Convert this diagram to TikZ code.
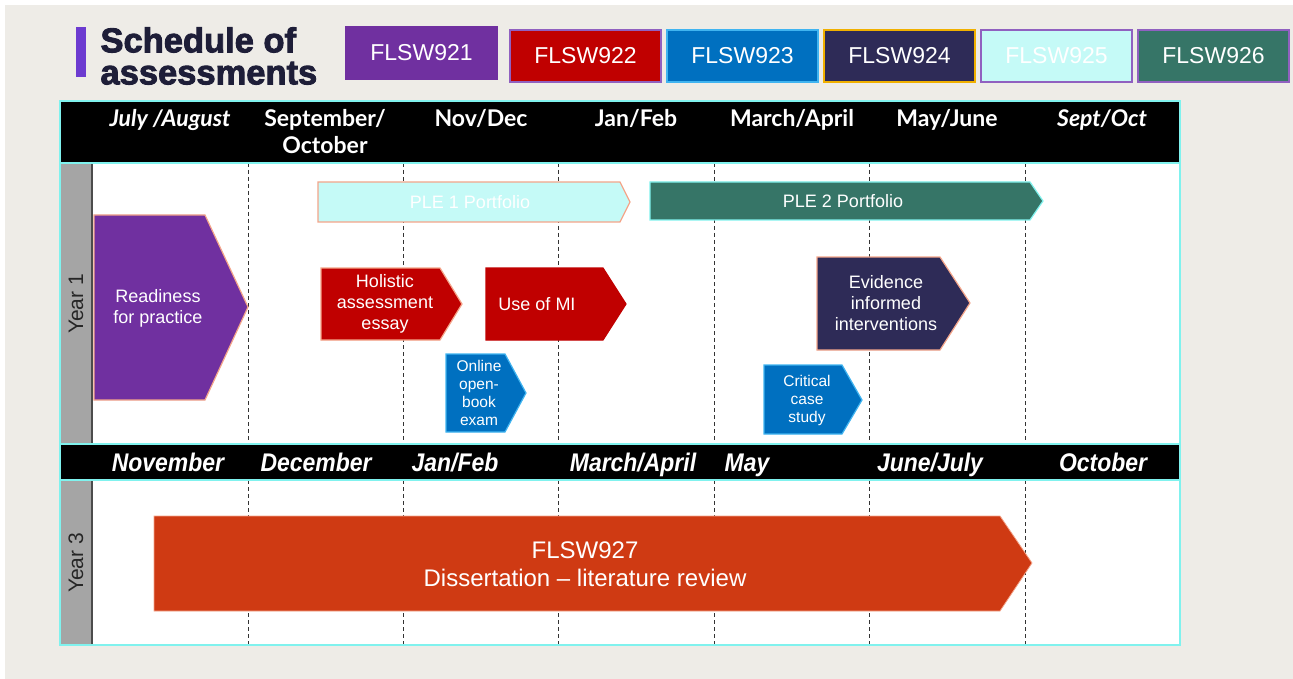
\documentclass[tikz,border=0pt]{standalone}
\usepackage{fontspec}
\setmainfont{Liberation Sans}
\newfontfamily\headfont{Lato}
\newfontfamily\narrowfont[FakeStretch=0.9]{Liberation Sans}
\newfontfamily\titlefont[BoldFeatures={FakeBold=2.6}]{Liberation Sans}
\usepackage{tikz}
\usetikzlibrary{positioning}
\usepackage{xcolor}

\definecolor{pagebg}{HTML}{EEECE7}
\definecolor{gridcyan}{HTML}{80F2EE}
\definecolor{stripgray}{HTML}{A5A5A5}
\definecolor{titlebar}{HTML}{6C3BD0}
\definecolor{titleink}{HTML}{1E1E38}
\definecolor{c921}{HTML}{7030A0}
\definecolor{c922}{HTML}{C00000}
\definecolor{c923}{HTML}{0070C0}
\definecolor{c924}{HTML}{2E2B57}
\definecolor{c925}{HTML}{C5FAF7}
\definecolor{c926}{HTML}{367567}
\definecolor{c927}{HTML}{CF3A13}
\definecolor{salmon}{HTML}{F4A58A}
\definecolor{skyedge}{HTML}{40B4F0}
\definecolor{goldedge}{HTML}{F0B000}
\definecolor{lilacedge}{HTML}{9060C0}

\tikzset{
	legendbox/.style={draw, line width=1.5pt, minimum width=151pt, minimum height=52pt,
		inner sep=0pt, text=white, font=\fontsize{23}{23}\selectfont},
	chevron/.style={draw=salmon, line width=1.2pt},
	boxtext/.style={text=white, align=center, font=\fontsize{18}{21}\selectfont},
	smalltext/.style={text=white, align=center, font=\fontsize{15.5}{18}\selectfont},
	monthtop/.style={anchor=base, inner sep=0pt, text=white, align=center, font=\headfont\bfseries\fontsize{23}{27}\selectfont},
	monthlow/.style={anchor=base, inner sep=0pt, text=white, font=\narrowfont\bfseries\itshape\fontsize{25.5}{25}\selectfont},
	yearlabel/.style={rotate=90, text=black!85, font=\fontsize{21}{21}\selectfont},
	gridline/.style={dash pattern=on 4pt off 3pt, line width=1pt, black!80}
}

\begin{document}
\begin{tikzpicture}[x=1pt, y=-1pt]
	\useasboundingbox (0,0) rectangle (1293,679);
	\fill[white] (0,0) rectangle (1293,679);
	\fill[pagebg] (5,5) rectangle (1293,679);

	% title and legend
	\fill[titlebar] (76,27) rectangle (86,77);
	\node[anchor=west, align=left, text=titleink, font=\titlefont\bfseries\fontsize{34.5}{32}\selectfont] (title) at (97,56) {Schedule of\\assessments};

	\node[legendbox, fill=c921, draw=c921] (leg921) at (421.5,53) {FLSW921};
	\node[legendbox, fill=c922, draw=lilacedge] (leg922) at (585.5,56) {FLSW922};
	\node[legendbox, fill=c923, draw=skyedge, right=4.5pt of leg922] (leg923) {FLSW923};
	\node[legendbox, fill=c924, draw=goldedge, right=4.5pt of leg923] (leg924) {FLSW924};
	\node[legendbox, fill=c925, draw=lilacedge, right=4.5pt of leg924] (leg925) {FLSW925};
	\node[legendbox, fill=c926, draw=lilacedge, right=4.5pt of leg925] (leg926) {FLSW926};

	% table
	\fill[white] (60,101) rectangle (1180,645);
	\fill[black] (60,101) rectangle (1180,163);
	\fill[black] (60,444) rectangle (1180,480);
	\fill[stripgray] (60,163) rectangle (92,444);
	\fill[stripgray] (60,480) rectangle (92,645);
	\draw[black!70, line width=1.2pt] (92,163) -- (92,444);
	\draw[black!70, line width=1.2pt] (92,480) -- (92,645);
	\foreach \x in {248,403,558,714,869,1025} {
		\draw[gridline] (\x,163) -- (\x,444);
		\draw[gridline] (\x,480) -- (\x,645);
	}
	\draw[gridcyan, line width=1.5pt] (60,163) -- (1180,163);
	\draw[gridcyan, line width=1.5pt] (60,444) -- (1180,444);
	\draw[gridcyan, line width=1.5pt] (60,480) -- (1180,480);
	\draw[gridcyan, line width=1.5pt] (60,101) rectangle (1180,645);

	\node[monthtop] (julaug) at (170,127) {\itshape July /August};
	\node[monthtop] (sep) at (325,127) {September/};
	\node[monthtop] (oct) at (325,154) {October};
	\node[monthtop] (novdec) at (481,127) {Nov/Dec};
	\node[monthtop] (janfeb) at (636,127) {Jan/Feb};
	\node[monthtop] (marapr) at (792,127) {March/April};
	\node[monthtop] (mayjun) at (947,127) {May/June};
	\node[monthtop] (septoct) at (1102,127) {\itshape Sept/Oct};

	\node[monthlow] (nov) at (168,471) {November};
	\node[monthlow] (dec) at (316,471) {December};
	\node[monthlow] (janfeb3) at (455,471) {Jan/Feb};
	\node[monthlow] (marapr3) at (633,471) {March/April};
	\node[monthlow] (may3) at (747,471) {May};
	\node[monthlow] (junjul) at (930,471) {June/July};
	\node[monthlow] (oct3) at (1103,471) {October};

	\node[yearlabel] (year1) at (76,304) {Year 1};
	\node[yearlabel] (year3) at (76,563) {Year 3};

	% year 1 assessments
	\draw[chevron, fill=c925] (318,182) -- (620,182) -- (630,202) -- (620,222) -- (318,222) -- cycle;
	\node[boxtext] (ple1) at (470,202) {PLE 1 Portfolio};
	\draw[chevron, draw=gridcyan, fill=c926] (650,182) -- (1030,182) -- (1043,201) -- (1030,220) -- (650,220) -- cycle;
	\node[boxtext] (ple2) at (843,201) {PLE 2 Portfolio};

	\draw[chevron, fill=c921] (94,215) -- (205,215) -- (248,307) -- (205,400) -- (94,400) -- cycle;
	\node[boxtext] (ready) at (158,308) {Readiness\\for practice};

	\draw[chevron, fill=c922] (321,268) -- (440,268) -- (462,304) -- (440,340) -- (321,340) -- cycle;
	\node[boxtext] (holistic) at (385,304) {Holistic\\assessment\\essay};
	\draw[chevron, draw=c922, fill=c922] (486,268) -- (603,268) -- (626,304) -- (603,340) -- (486,340) -- cycle;
	\node[boxtext] (useofmi) at (537,304) {Use of MI};

	\draw[chevron, draw=skyedge, fill=c923] (446,354) -- (505,354) -- (526,393) -- (505,432) -- (446,432) -- cycle;
	\node[smalltext] (online) at (479,393) {Online\\open-\\book\\exam};

	\draw[chevron, fill=c924] (817,257) -- (940,257) -- (970,303) -- (940,350) -- (817,350) -- cycle;
	\node[boxtext] (evidence) at (886,303) {Evidence\\informed\\interventions};
	\draw[chevron, draw=skyedge, fill=c923] (764,365) -- (842,365) -- (862,400) -- (842,434) -- (764,434) -- cycle;
	\node[smalltext] (critical) at (807,400) {Critical\\case\\study};

	% year 3
	\draw[chevron, line width=0.8pt, fill=c927] (154,516) -- (1000,516) -- (1032,563) -- (1000,611) -- (154,611) -- cycle;
	\node[boxtext, font=\fontsize{24}{28}\selectfont] (diss) at (585,564) {FLSW927\\Dissertation -- literature review};
\end{tikzpicture}
\end{document}
